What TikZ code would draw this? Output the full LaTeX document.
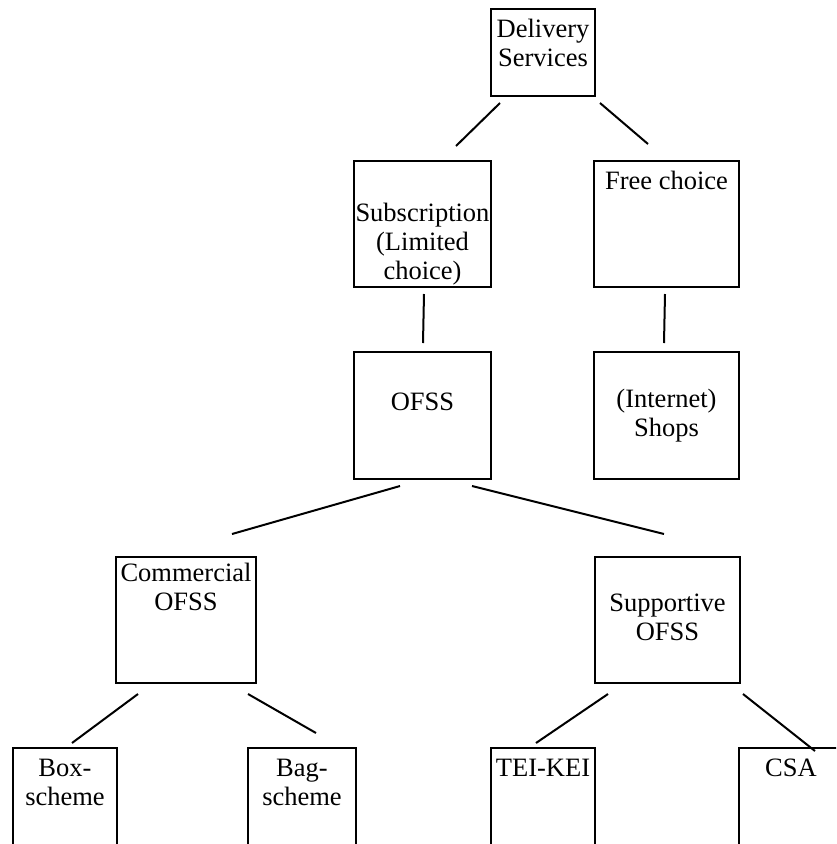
\documentclass[tikz,border=0pt]{standalone}
\usepackage{fontspec}
\setmainfont{Liberation Serif}
\usetikzlibrary{calc}
\begin{document}
\begin{tikzpicture}[x=1pt,y=-1pt,
  box/.style={draw=black,line width=2.3pt,inner sep=0pt,outer sep=0pt,anchor=north west},
  txt/.style={inner sep=0pt,outer sep=0pt,anchor=north,align=center,
    font=\fontsize{26.5pt}{29pt}\selectfont},
  link/.style={draw=black,line width=2pt}]
\useasboundingbox (0,0) rectangle (836,844);
\clip (0,0) rectangle (836,844);
% boxes
\node[box,minimum width=104pt,minimum height=87pt] (ds) at (491,9) {};
\node[box,minimum width=137pt,minimum height=126pt] (sub) at (354,161) {};
\node[box,minimum width=145pt,minimum height=126pt] (fc) at (594,161) {};
\node[box,minimum width=137pt,minimum height=127pt] (ofss) at (354,352) {};
\node[box,minimum width=145pt,minimum height=127pt] (shops) at (594,352) {};
\node[box,minimum width=140pt,minimum height=126pt] (com) at (116,557) {};
\node[box,minimum width=145pt,minimum height=126pt] (sup) at (595,557) {};
\node[box,minimum width=104pt,minimum height=130pt] (bx) at (13,748) {};
\node[box,minimum width=108pt,minimum height=130pt] (bag) at (248,748) {};
\node[box,minimum width=104pt,minimum height=130pt] (tei) at (491,748) {};
\node[box,minimum width=104pt,minimum height=130pt] (csa) at (739,748) {};
% texts
\node[txt] (dsT) at (543,19) {Delivery\\Services};
\node[txt] (subT) at (422.5,203) {Subscription\\(Limited\\choice)};
\node[txt] (fcT) at (666.5,171) {Free choice};
\node[txt] (ofssT) at (422.5,393) {OFSS};
\node[txt] (shopsT) at (666.5,389) {(Internet)\\Shops};
\node[txt] (comT) at (186,563) {Commercial\\OFSS};
\node[txt] (supT) at (667.5,594) {Supportive\\OFSS};
\node[txt] (bxT) at (65,759) {Box-\\scheme};
\node[txt] (bagT) at (302,759) {Bag-\\scheme};
\node[txt] (teiT) at (543,759) {TEI-KEI};
\node[txt] (csaT) at (791,759) {CSA};
% connectors
\draw[link] ($(ds.south west)+(9,7)$) -- ($(sub.north)+(33.5,-15)$);
\draw[link] ($(ds.south east)+(5,7)$) -- ($(fc.north)+(-18.5,-17)$);
\draw[link] ($(sub.south)+(1.5,7)$) -- ($(ofss.north)+(0.5,-9)$);
\draw[link] ($(fc.south)+(-1.5,7)$) -- ($(shops.north)+(-2.5,-9)$);
\draw[link] ($(ofss.south)+(-22.5,7)$) -- ($(com.north east)+(-24,-23)$);
\draw[link] ($(ofss.south)+(49.5,7)$) -- ($(sup.north)+(-3.5,-23)$);
\draw[link] ($(com.south west)+(22,11)$) -- ($(bx.north)+(7,-5)$);
\draw[link] ($(com.south east)+(-8,11)$) -- ($(bag.north)+(14,-15)$);
\draw[link] ($(sup.south west)+(13,11)$) -- ($(tei.north)+(-7,-5)$);
\draw[link] ($(sup.south east)+(3,11)$) -- ($(csa.north)+(24,3)$);
\end{tikzpicture}
\end{document}
